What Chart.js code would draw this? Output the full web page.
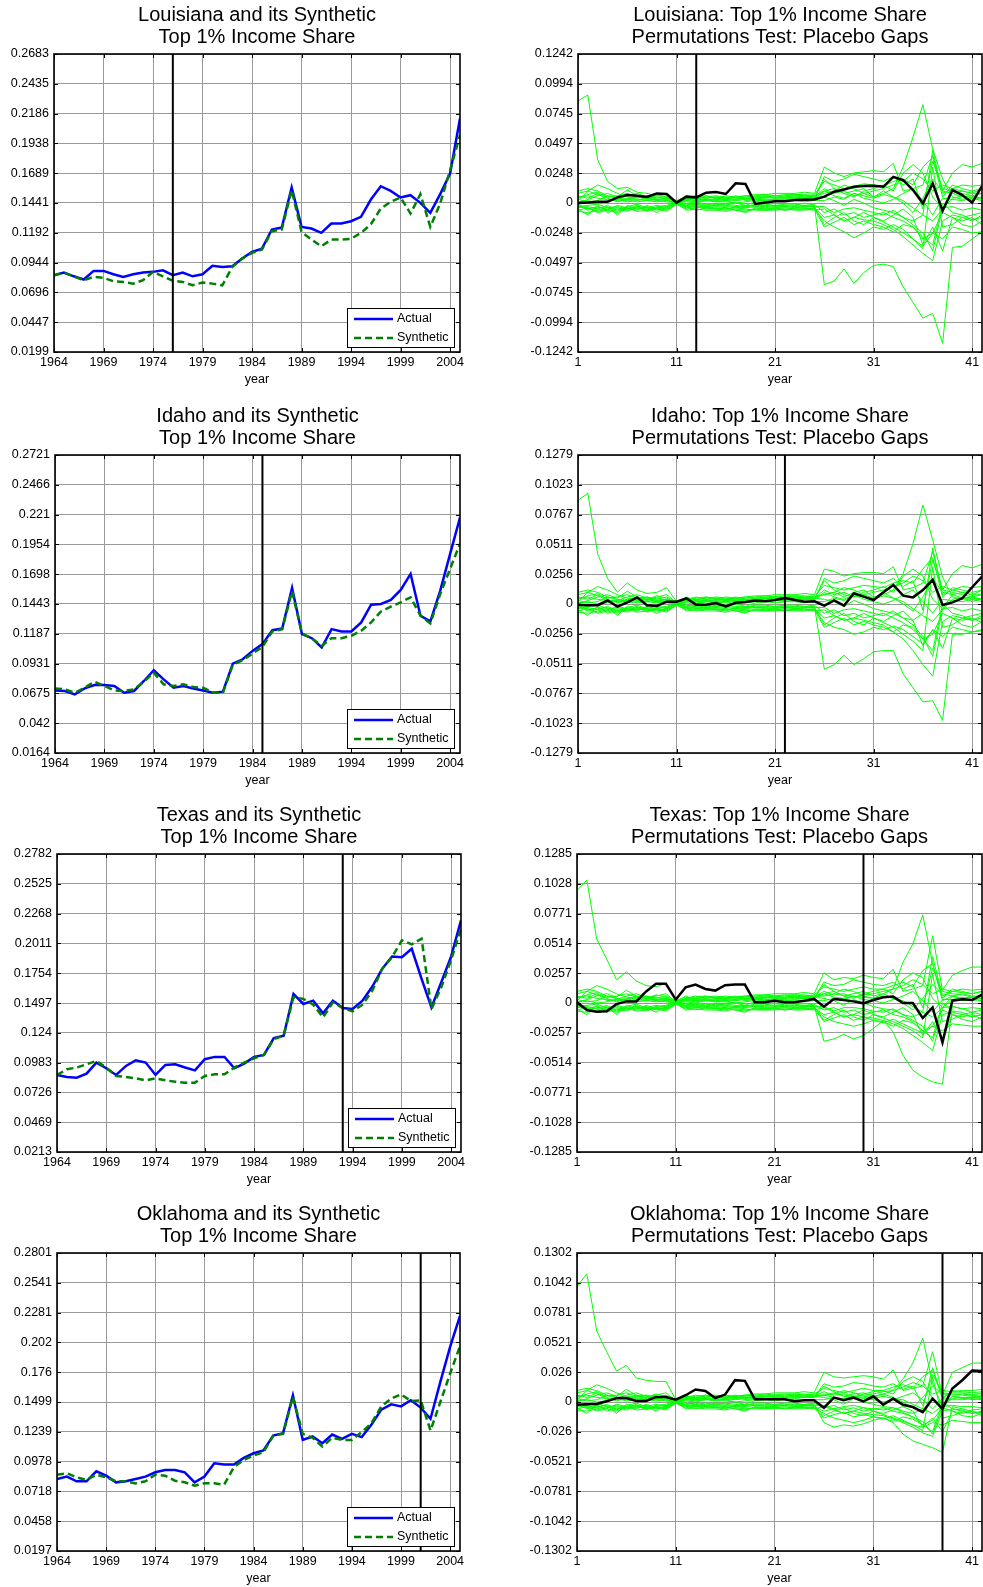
<!DOCTYPE html>
<html>
<head>
<meta charset="utf-8">
<script src="https://cdn.jsdelivr.net/npm/chart.js@4.4.1/dist/chart.umd.min.js"></script>
<style>
html, body { margin: 0; padding: 0; background: #fff; overflow: hidden; width: 983px; height: 1587px; }
canvas { position: absolute; }
</style>
</head>
<body>
<canvas id="laL" width="514" height="390" style="left:0px;top:0px"></canvas>
<canvas id="laR" width="560" height="390" style="left:500px;top:0px"></canvas>
<canvas id="idL" width="515" height="390" style="left:0px;top:401px"></canvas>
<canvas id="idR" width="560" height="390" style="left:500px;top:401px"></canvas>
<canvas id="txL" width="518" height="390" style="left:0px;top:800px"></canvas>
<canvas id="txR" width="559" height="390" style="left:500px;top:800px"></canvas>
<canvas id="okL" width="517" height="390" style="left:0px;top:1199px"></canvas>
<canvas id="okR" width="559" height="390" style="left:500px;top:1199px"></canvas>
<script>
// x values
const years = [1964,1965,1966,1967,1968,1969,1970,1971,1972,1973,1974,1975,1976,1977,1978,1979,1980,1981,1982,1983,1984,1985,1986,1987,1988,1989,1990,1991,1992,1993,1994,1995,1996,1997,1998,1999,2000,2001,2002,2003,2004,2005];
const periods = [1,2,3,4,5,6,7,8,9,10,11,12,13,14,15,16,17,18,19,20,21,22,23,24,25,26,27,28,29,30,31,32,33,34,35,36,37,38,39,40,41,42];
const yearTicks = [1964,1969,1974,1979,1984,1989,1994,1999,2004];
const periodTicks = [1,11,21,31,41];

// left panels: actual vs synthetic
const laActual = [0.0839,0.0861,0.0830,0.0803,0.0875,0.0875,0.0847,0.0825,0.0847,0.0861,0.0867,0.0880,0.0839,0.0861,0.0830,0.0847,0.0917,0.0908,0.0914,0.0978,0.1033,0.1061,0.1220,0.1236,0.1570,0.1242,0.1228,0.1192,0.1270,0.1270,0.1289,0.1326,0.1470,0.1581,0.1542,0.1487,0.1506,0.1442,0.1359,0.1515,0.1687,0.2146];
const laSynthetic = [0.0839,0.0861,0.0830,0.0797,0.0825,0.0817,0.0789,0.0783,0.0769,0.0797,0.0867,0.0830,0.0792,0.0783,0.0755,0.0778,0.0769,0.0755,0.0908,0.0978,0.1025,0.1053,0.1206,0.1220,0.1548,0.1200,0.1136,0.1081,0.1136,0.1136,0.1142,0.1192,0.1264,0.1395,0.1451,0.1487,0.1353,0.1515,0.1242,0.1437,0.1715,0.2007];
const idActual = [0.0701,0.0696,0.0667,0.0718,0.0747,0.0747,0.0739,0.0681,0.0696,0.0782,0.0874,0.0796,0.0724,0.0739,0.0718,0.0701,0.0681,0.0690,0.0931,0.0968,0.1040,0.1098,0.1218,0.1232,0.1580,0.1184,0.1149,0.1069,0.1227,0.1207,0.1207,0.1284,0.1437,0.1443,0.1477,0.1563,0.1701,0.1342,0.1293,0.1557,0.1873,0.2184];
const idSynthetic = [0.0718,0.0710,0.0681,0.0724,0.0776,0.0739,0.0701,0.0696,0.0710,0.0776,0.0854,0.0753,0.0739,0.0753,0.0730,0.0724,0.0681,0.0681,0.0920,0.0960,0.1017,0.1075,0.1207,0.1227,0.1552,0.1190,0.1149,0.1083,0.1149,0.1149,0.1170,0.1213,0.1284,0.1379,0.1420,0.1457,0.1500,0.1342,0.1276,0.1529,0.1744,0.1960];
const txActual = [0.0877,0.0860,0.0854,0.0889,0.0984,0.0935,0.0877,0.0955,0.1004,0.0984,0.0877,0.0964,0.0969,0.0941,0.0917,0.1013,0.1033,0.1033,0.0935,0.0975,0.1033,0.1050,0.1195,0.1215,0.1576,0.1489,0.1518,0.1408,0.1518,0.1454,0.1446,0.1518,0.1639,0.1792,0.1899,0.1893,0.1965,0.1705,0.1460,0.1677,0.1899,0.2211];
const txSynthetic = [0.0877,0.0926,0.0941,0.0969,0.0998,0.0941,0.0868,0.0860,0.0848,0.0831,0.0848,0.0831,0.0819,0.0811,0.0811,0.0868,0.0883,0.0883,0.0941,0.0984,0.1021,0.1050,0.1186,0.1215,0.1547,0.1533,0.1483,0.1374,0.1503,0.1454,0.1425,0.1483,0.1604,0.1792,0.1893,0.2038,0.2003,0.2052,0.1446,0.1633,0.1870,0.2139];
const okActual = [0.0826,0.0847,0.0806,0.0806,0.0893,0.0855,0.0797,0.0806,0.0826,0.0847,0.0885,0.0905,0.0905,0.0885,0.0797,0.0847,0.0964,0.0952,0.0952,0.1010,0.1051,0.1075,0.1206,0.1227,0.1558,0.1168,0.1198,0.1139,0.1215,0.1177,0.1221,0.1192,0.1303,0.1432,0.1479,0.1461,0.1514,0.1450,0.1353,0.1675,0.1982,0.2251];
const okSynthetic = [0.0864,0.0876,0.0841,0.0817,0.0864,0.0841,0.0806,0.0806,0.0788,0.0806,0.0864,0.0855,0.0811,0.0797,0.0768,0.0788,0.0788,0.0776,0.0929,0.0993,0.1031,0.1060,0.1206,0.1221,0.1543,0.1221,0.1186,0.1110,0.1186,0.1168,0.1168,0.1236,0.1315,0.1461,0.1528,0.1566,0.1508,0.1514,0.1250,0.1499,0.1748,0.1988];

const laTicks = [0.0199,0.0447,0.0696,0.0944,0.1192,0.1441,0.1689,0.1938,0.2186,0.2435,0.2683];
const idTicks = [0.0164,0.042,0.0675,0.0931,0.1187,0.1443,0.1698,0.1954,0.221,0.2466,0.2721];
const txTicks = [0.0213,0.0469,0.0726,0.0983,0.124,0.1497,0.1754,0.2011,0.2268,0.2525,0.2782];
const okTicks = [0.0197,0.0458,0.0718,0.0978,0.1239,0.1499,0.176,0.202,0.2281,0.2541,0.2801];

// right panels: treated gap (black)
const laGap = [0.000,0.0005,0.001,0.001,0.0047,0.0067,0.006,0.005,0.008,0.0075,0.0003,0.0053,0.0047,0.0086,0.0092,0.0075,0.0164,0.0158,-0.0008,0.0005,0.0014,0.0014,0.0025,0.0028,0.003,0.0053,0.0094,0.0113,0.0135,0.0141,0.0144,0.0135,0.0218,0.019,0.0108,-0.0003,0.0163,-0.0064,0.0108,0.0066,0.0003,0.0141];
const idGap = [-0.0006,-0.001,-0.001,0.003,-0.0023,0.0014,0.0057,-0.0011,-0.0017,0.002,0.002,0.0049,-0.0006,-0.0006,0.0009,-0.002,0.0011,0.0017,0.0029,0.0023,0.0034,0.0052,0.0034,0.002,0.0023,-0.0014,0.003,-0.0014,0.0092,0.0063,0.0034,0.010,0.0164,0.0072,0.0057,0.012,0.0207,-0.0009,0.0014,0.0049,0.0144,0.0236];
const txGap = [0.0006,-0.006,-0.0075,-0.0072,-0.0009,0.0014,0.0014,0.010,0.0165,0.0165,0.0029,0.0136,0.0159,0.0121,0.0107,0.0153,0.0159,0.0159,0.0006,0.0006,0.002,0.0006,0.0006,0.002,0.0035,-0.0032,0.0035,0.0026,0.0014,-0.0003,0.0026,0.0049,0.0055,0.0,0.0,-0.013,-0.0038,-0.034,0.002,0.0032,0.0026,0.0072];
const okGap = [-0.0024,-0.002,-0.0018,0.0006,0.0035,0.0035,0.0009,0.0009,0.0044,0.0044,0.002,0.0059,0.0109,0.0097,0.0035,0.0065,0.0191,0.0185,0.0024,0.0024,0.0024,0.0024,0.0006,0.0015,0.0015,-0.005,0.0038,0.0015,0.0038,0.0006,0.005,-0.0024,0.003,-0.0024,-0.0044,-0.0088,0.003,-0.0059,0.0118,0.019,0.0274,0.027];

// placebo with the big early gap
const laOutlier = [0.085,0.090,0.036,0.018,0.012,0.013,0.009,0.008,0.006,0.005,0.000,0.003,0.002,0.003,0.001,0.002,0.000,-0.002,0.001,0.002,0.003,0.002,0.003,0.004,0.004,0.010,0.006,0.004,0.008,0.006,0.004,0.007,0.005,0.002,-0.004,-0.010,-0.015,-0.005,0.004,0.006,0.002,0.005];
const idOutlier = [0.089,0.095,0.043,0.022,0.010,0.018,0.012,0.009,0.010,0.014,0.002,0.003,0.002,0.003,0.001,0.002,0.000,-0.002,0.001,0.002,0.003,0.002,0.003,0.004,0.004,0.010,0.006,0.004,0.008,0.006,0.004,0.007,0.005,0.002,-0.004,-0.010,-0.015,-0.005,0.004,0.006,0.002,0.005];
const txOutlier = [0.097,0.106,0.055,0.038,0.020,0.027,0.019,0.015,0.014,0.017,0.002,0.003,0.002,0.003,0.001,0.002,0.000,-0.002,0.001,0.002,0.003,0.002,0.003,0.004,0.004,0.008,0.005,0.004,0.006,0.005,0.004,0.006,0.004,0.002,-0.003,-0.008,-0.012,-0.004,0.003,0.005,0.002,0.004];
const okOutlier = [0.101,0.112,0.062,0.044,0.027,0.032,0.021,0.019,0.018,0.018,0.002,0.003,0.002,0.003,0.001,0.002,0.000,-0.002,0.001,0.002,0.003,0.002,0.003,0.004,0.004,0.006,0.004,0.003,0.005,0.004,0.003,0.005,0.003,0.002,-0.002,-0.006,-0.010,-0.003,0.003,0.004,0.002,0.003];

// other placebo gaps, periods 1-25 (similar in every panel)
const bandPre = [
  [-0.004,-0.003,-0.005,-0.002,-0.006,-0.003,-0.001,-0.004,-0.008,-0.003,0.000,-0.002,-0.001,-0.003,-0.002,-0.003,-0.004,-0.003,-0.002,-0.002,-0.003,-0.003,-0.002,-0.003,-0.002],
  [0.005,0.006,0.004,0.003,0.002,0.004,0.003,0.002,0.003,0.002,0.000,0.002,0.001,0.002,0.003,0.002,0.003,0.004,0.003,0.005,0.004,0.005,0.006,0.005,0.006],
  [0.002,0.010,0.015,0.012,0.008,0.005,0.004,0.006,0.003,0.004,0.001,0.003,0.002,0.004,0.005,0.004,0.005,0.006,0.007,0.007,0.008,0.008,0.008,0.009,0.008],
  [-0.002,-0.006,-0.004,-0.003,-0.010,-0.002,-0.005,-0.003,-0.006,-0.004,0.000,-0.003,-0.002,-0.004,-0.003,-0.004,-0.006,-0.008,-0.004,-0.005,-0.005,-0.004,-0.005,-0.005,-0.004],
  [0.000,0.003,0.006,0.008,0.005,0.011,0.006,0.004,0.007,0.005,0.001,0.004,0.003,0.002,0.004,0.003,0.002,0.003,0.004,0.004,0.005,0.004,0.005,0.004,0.005],
  [-0.006,-0.004,-0.007,-0.005,-0.004,-0.006,-0.004,-0.005,-0.004,-0.006,-0.001,-0.004,-0.003,-0.005,-0.004,-0.005,-0.004,-0.005,-0.006,-0.006,-0.006,-0.005,-0.006,-0.006,-0.005],
  [0.008,0.010,0.007,0.005,0.006,0.008,0.005,0.006,0.004,0.006,0.002,0.005,0.004,0.005,0.006,0.005,0.004,0.005,0.006,0.007,0.006,0.007,0.007,0.006,0.007],
  [-0.003,-0.002,-0.001,-0.004,-0.003,-0.005,-0.002,-0.006,-0.003,-0.002,0.001,-0.001,-0.002,-0.001,-0.002,-0.001,-0.002,-0.003,-0.001,-0.001,-0.002,-0.001,-0.001,-0.002,-0.001],
  [0.003,0.001,0.002,0.006,0.004,0.002,0.005,0.003,0.005,0.003,0.000,0.002,0.004,0.003,0.002,0.003,0.005,0.002,0.003,0.003,0.003,0.003,0.004,0.004,0.004],
  [-0.001,-0.005,-0.003,-0.006,-0.002,-0.004,-0.006,-0.002,-0.005,-0.007,-0.001,-0.005,-0.004,-0.002,-0.005,-0.006,-0.003,-0.004,-0.003,-0.004,-0.004,-0.003,-0.004,-0.003,-0.003],
  [0.001,0.002,0.000,0.001,0.003,0.001,0.002,0.004,0.002,0.001,0.000,0.001,0.000,0.002,0.001,0.001,0.000,0.001,0.002,0.002,0.001,0.002,0.002,0.001,0.002],
  [0.004,0.007,0.009,0.004,0.001,0.003,0.001,0.002,0.001,0.002,0.000,0.003,0.005,0.006,0.004,0.006,0.005,0.006,0.005,0.006,0.006,0.006,0.007,0.007,0.006],
  [-0.005,-0.010,-0.002,-0.008,-0.005,-0.007,-0.003,-0.004,-0.002,-0.004,0.000,-0.006,-0.005,-0.006,-0.006,-0.007,-0.005,-0.006,-0.005,-0.006,-0.005,-0.006,-0.005,-0.005,-0.006],
  [0.006,0.004,0.008,0.002,0.003,0.006,0.008,0.005,0.002,0.004,0.001,0.004,0.006,0.004,0.005,0.004,0.006,0.004,0.005,0.005,0.006,0.005,0.006,0.006,0.005],
  [-0.007,-0.008,-0.006,-0.004,-0.007,-0.004,-0.007,-0.006,-0.005,-0.005,-0.001,-0.003,-0.006,-0.004,-0.005,-0.004,-0.006,-0.007,-0.005,-0.005,-0.004,-0.006,-0.004,-0.004,-0.005],
  [0.010,0.012,0.010,0.006,0.004,0.003,0.006,0.004,0.006,0.008,0.001,0.006,0.003,0.006,0.004,0.004,0.003,0.004,0.004,0.005,0.004,0.004,0.005,0.005,0.004],
  [-0.002,-0.004,-0.008,-0.006,-0.008,-0.005,-0.003,-0.007,-0.004,-0.003,0.000,-0.002,-0.004,-0.003,-0.001,-0.002,-0.003,-0.002,-0.003,-0.003,-0.002,-0.002,-0.003,-0.002,-0.003]
];

// same placebos, periods 26-42, per panel
const laPost = [
  [-0.068,-0.065,-0.055,-0.067,-0.058,-0.052,-0.051,-0.053,-0.070,-0.083,-0.096,-0.092,-0.117,-0.037,-0.036,-0.030,-0.024],
  [0.010,0.012,0.008,0.010,0.012,0.005,0.008,0.012,0.030,0.055,0.082,0.045,0.020,0.005,0.003,0.005,0.004],
  [0.030,0.025,0.022,0.025,0.026,0.027,0.026,0.033,0.010,0.012,0.015,0.040,0.010,0.025,0.032,0.030,0.033],
  [-0.012,-0.010,-0.015,-0.012,-0.014,-0.015,-0.018,-0.022,-0.028,-0.035,-0.042,-0.048,-0.015,-0.010,-0.012,-0.015,-0.010],
  [0.005,0.002,-0.002,0.003,0.000,-0.004,-0.006,-0.008,-0.012,-0.015,-0.010,0.044,0.008,0.012,0.010,0.008,0.012],
  [-0.015,-0.020,-0.024,-0.029,-0.025,-0.020,-0.022,-0.018,-0.022,-0.030,-0.036,-0.025,-0.030,-0.020,-0.022,-0.025,-0.024],
  [0.018,0.015,0.012,0.014,0.016,0.015,0.014,0.018,0.020,0.015,0.030,0.038,0.005,0.015,0.012,0.010,0.012],
  [-0.008,-0.005,-0.010,-0.008,-0.012,-0.010,-0.008,-0.012,-0.015,-0.020,-0.030,-0.025,-0.008,-0.012,-0.015,-0.012,-0.018],
  [0.020,0.012,0.008,0.005,0.010,0.012,0.015,0.010,0.025,0.032,0.025,0.005,-0.005,0.008,0.005,0.006,0.008],
  [-0.018,-0.012,-0.008,-0.015,-0.018,-0.012,-0.015,-0.010,-0.005,-0.012,-0.035,-0.020,-0.040,-0.012,-0.018,-0.020,-0.015],
  [0.002,0.005,0.003,0.008,0.004,0.002,0.000,0.003,0.008,0.012,0.002,-0.010,0.004,0.003,0.002,0.004,0.002],
  [0.008,0.010,0.015,0.012,0.008,0.005,0.010,0.005,0.000,-0.008,0.004,0.020,0.010,0.008,0.010,0.008,0.008],
  [-0.005,-0.010,-0.015,-0.012,-0.008,-0.012,-0.016,-0.020,-0.025,-0.030,-0.038,0.030,-0.020,-0.018,-0.012,-0.010,-0.008],
  [0.012,0.008,0.010,0.006,0.008,0.010,0.012,0.015,0.018,0.025,0.020,0.010,0.015,0.012,0.015,0.014,0.015],
  [-0.020,-0.016,-0.012,-0.018,-0.015,-0.018,-0.020,-0.024,-0.018,-0.020,-0.028,-0.035,0.000,-0.008,-0.010,-0.014,-0.012],
  [0.022,0.018,0.020,0.024,0.022,0.020,0.018,0.022,0.015,0.020,-0.005,0.035,0.012,0.010,0.008,0.006,0.004],
  [-0.003,-0.008,-0.005,-0.004,-0.006,-0.008,-0.010,-0.006,-0.012,-0.018,-0.025,-0.040,-0.004,-0.003,-0.006,-0.004,-0.006]
];
const idPost = [
  [-0.056,-0.052,-0.044,-0.052,-0.047,-0.041,-0.040,-0.040,-0.060,-0.072,-0.084,-0.083,-0.100,-0.026,-0.026,-0.024,-0.023],
  [0.008,0.010,0.006,0.010,0.012,0.006,0.008,0.012,0.026,0.052,0.085,0.055,0.023,0.006,0.004,0.005,0.004],
  [0.030,0.028,0.024,0.026,0.027,0.027,0.026,0.032,0.012,0.014,0.018,0.045,0.012,0.026,0.033,0.031,0.034],
  [-0.012,-0.010,-0.014,-0.012,-0.014,-0.016,-0.018,-0.024,-0.030,-0.040,-0.052,-0.062,-0.015,-0.010,-0.012,-0.014,-0.010],
  [0.004,0.002,-0.002,0.003,0.000,-0.004,-0.006,-0.008,-0.012,-0.014,-0.008,0.048,0.008,0.012,0.010,0.008,0.012],
  [-0.016,-0.020,-0.022,-0.026,-0.024,-0.020,-0.022,-0.019,-0.022,-0.028,-0.034,-0.022,-0.028,-0.020,-0.022,-0.024,-0.022],
  [0.016,0.014,0.012,0.014,0.016,0.015,0.014,0.018,0.020,0.018,0.030,0.040,0.006,0.014,0.012,0.010,0.012],
  [-0.008,-0.005,-0.010,-0.008,-0.012,-0.010,-0.008,-0.012,-0.016,-0.022,-0.030,-0.026,-0.008,-0.012,-0.014,-0.012,-0.016],
  [0.020,0.012,0.008,0.006,0.010,0.012,0.015,0.010,0.024,0.030,0.024,0.004,-0.004,0.008,0.005,0.006,0.008],
  [-0.018,-0.012,-0.008,-0.015,-0.018,-0.012,-0.015,-0.010,-0.006,-0.014,-0.036,-0.022,-0.038,-0.012,-0.018,-0.020,-0.015],
  [0.002,0.005,0.003,0.008,0.004,0.002,0.000,0.003,0.008,0.012,0.002,-0.008,0.004,0.003,0.002,0.004,0.002],
  [0.008,0.010,0.014,0.012,0.008,0.005,0.010,0.005,0.000,-0.006,0.006,0.022,0.010,0.008,0.010,0.008,0.008],
  [-0.005,-0.010,-0.014,-0.012,-0.008,-0.012,-0.016,-0.020,-0.026,-0.032,-0.040,0.032,-0.020,-0.018,-0.012,-0.010,-0.008],
  [0.012,0.008,0.010,0.006,0.008,0.010,0.012,0.015,0.018,0.024,0.020,0.010,0.015,0.012,0.015,0.014,0.015],
  [-0.020,-0.016,-0.012,-0.018,-0.015,-0.018,-0.020,-0.024,-0.018,-0.020,-0.030,-0.040,0.000,-0.008,-0.010,-0.014,-0.012],
  [0.022,0.018,0.020,0.024,0.022,0.020,0.018,0.022,0.015,0.020,-0.005,0.038,0.012,0.010,0.008,0.006,0.004],
  [-0.003,-0.008,-0.005,-0.004,-0.006,-0.008,-0.010,-0.006,-0.012,-0.018,-0.028,-0.045,-0.004,-0.003,-0.006,-0.004,-0.006]
];
const txPost = [
  [-0.033,-0.031,-0.027,-0.031,-0.028,-0.022,-0.015,-0.025,-0.045,-0.058,-0.064,-0.068,-0.070,-0.003,-0.005,-0.008,-0.010],
  [0.008,0.010,0.006,0.008,0.010,0.006,0.008,0.012,0.035,0.051,0.076,0.034,0.002,0.006,0.004,0.005,0.004],
  [0.026,0.020,0.022,0.021,0.024,0.022,0.021,0.029,0.010,0.012,0.015,0.058,0.011,0.024,0.028,0.031,0.031],
  [-0.010,-0.008,-0.012,-0.010,-0.012,-0.013,-0.015,-0.018,-0.022,-0.028,-0.034,-0.041,-0.010,-0.008,-0.010,-0.012,-0.010],
  [0.004,0.002,-0.002,0.003,0.000,-0.003,-0.005,-0.006,-0.010,-0.012,-0.008,0.040,0.006,0.010,0.009,0.008,0.010],
  [-0.012,-0.016,-0.018,-0.020,-0.018,-0.015,-0.017,-0.014,-0.018,-0.022,-0.026,-0.020,-0.024,-0.018,-0.019,-0.020,-0.020],
  [0.014,0.012,0.010,0.012,0.014,0.012,0.012,0.015,0.018,0.014,0.028,0.034,0.004,0.012,0.010,0.008,0.010],
  [-0.006,-0.004,-0.008,-0.006,-0.010,-0.008,-0.006,-0.010,-0.012,-0.016,-0.024,-0.020,-0.006,-0.010,-0.012,-0.010,-0.014],
  [0.016,0.010,0.006,0.004,0.008,0.010,0.012,0.008,0.020,0.026,0.022,0.004,-0.004,0.006,0.004,0.005,0.006],
  [-0.015,-0.010,-0.006,-0.012,-0.015,-0.010,-0.012,-0.008,-0.004,-0.010,-0.028,-0.016,-0.032,-0.010,-0.014,-0.016,-0.012],
  [0.002,0.004,0.003,0.006,0.003,0.002,0.000,0.003,0.006,0.010,0.002,-0.008,0.003,0.003,0.002,0.003,0.002],
  [0.006,0.008,0.012,0.010,0.006,0.004,0.008,0.004,0.000,-0.006,0.004,0.016,0.008,0.006,0.008,0.006,0.006],
  [-0.004,-0.008,-0.012,-0.010,-0.006,-0.010,-0.013,-0.016,-0.020,-0.024,-0.030,0.025,-0.016,-0.014,-0.010,-0.008,-0.006],
  [0.010,0.007,0.008,0.005,0.007,0.008,0.010,0.012,0.015,0.020,0.016,0.008,0.012,0.010,0.012,0.011,0.012],
  [-0.016,-0.013,-0.010,-0.015,-0.012,-0.015,-0.016,-0.020,-0.015,-0.017,-0.024,-0.030,0.000,-0.007,-0.008,-0.012,-0.010],
  [0.018,0.015,0.016,0.020,0.018,0.016,0.015,0.018,0.012,0.016,-0.004,0.030,0.010,0.008,0.007,0.005,0.004],
  [-0.003,-0.007,-0.004,-0.004,-0.005,-0.007,-0.008,-0.005,-0.010,-0.015,-0.020,-0.033,-0.004,-0.003,-0.005,-0.004,-0.005]
];
const okPost = [
  [-0.018,-0.022,-0.020,-0.021,-0.019,-0.016,-0.014,-0.018,-0.028,-0.034,-0.037,-0.040,-0.044,-0.004,-0.006,-0.008,-0.010],
  [0.006,0.008,0.005,0.007,0.008,0.005,0.007,0.010,0.020,0.034,0.056,0.016,-0.004,0.005,0.003,0.004,0.003],
  [0.026,0.022,0.021,0.022,0.023,0.022,0.020,0.028,0.010,0.012,0.014,0.044,0.006,0.026,0.030,0.034,0.034],
  [-0.008,-0.006,-0.010,-0.008,-0.010,-0.011,-0.012,-0.015,-0.018,-0.022,-0.027,-0.030,-0.008,-0.006,-0.008,-0.010,-0.008],
  [0.004,0.002,-0.002,0.003,0.000,-0.002,-0.004,-0.005,-0.008,-0.010,-0.006,0.030,0.004,0.008,0.008,0.006,0.008],
  [-0.010,-0.014,-0.016,-0.018,-0.016,-0.013,-0.015,-0.012,-0.016,-0.020,-0.022,-0.018,-0.020,-0.016,-0.017,-0.018,-0.018],
  [0.012,0.010,0.008,0.010,0.012,0.010,0.010,0.013,0.015,0.012,0.022,0.028,0.003,0.010,0.009,0.008,0.009],
  [-0.005,-0.003,-0.007,-0.005,-0.008,-0.006,-0.005,-0.008,-0.010,-0.013,-0.020,-0.016,-0.005,-0.008,-0.010,-0.008,-0.012],
  [0.014,0.009,0.005,0.004,0.007,0.009,0.010,0.007,0.018,0.022,0.018,0.003,-0.003,0.005,0.004,0.004,0.005],
  [-0.012,-0.008,-0.005,-0.010,-0.012,-0.008,-0.010,-0.007,-0.004,-0.008,-0.022,-0.014,-0.026,-0.008,-0.012,-0.013,-0.010],
  [0.002,0.004,0.002,0.005,0.003,0.002,0.000,0.002,0.005,0.008,0.002,-0.006,0.003,0.002,0.002,0.003,0.002],
  [0.006,0.007,0.010,0.008,0.005,0.004,0.007,0.004,0.000,-0.005,0.004,0.014,0.007,0.006,0.007,0.006,0.006],
  [-0.004,-0.007,-0.010,-0.008,-0.005,-0.008,-0.011,-0.014,-0.017,-0.020,-0.025,0.022,-0.014,-0.012,-0.009,-0.007,-0.006],
  [0.009,0.006,0.007,0.005,0.006,0.007,0.009,0.010,0.013,0.017,0.014,0.007,0.010,0.009,0.010,0.010,0.011],
  [-0.014,-0.011,-0.009,-0.013,-0.011,-0.013,-0.014,-0.017,-0.013,-0.015,-0.020,-0.026,0.000,-0.006,-0.007,-0.010,-0.009],
  [0.016,0.013,0.014,0.017,0.016,0.014,0.013,0.016,0.011,0.014,-0.003,0.024,0.008,0.007,0.006,0.005,0.004],
  [-0.003,-0.006,-0.004,-0.003,-0.005,-0.006,-0.007,-0.005,-0.009,-0.013,-0.017,-0.028,-0.004,-0.003,-0.004,-0.004,-0.005]
];

const laGapTicks = [-0.1242,-0.0994,-0.0745,-0.0497,-0.0248,0,0.0248,0.0497,0.0745,0.0994,0.1242];
const idGapTicks = [-0.1279,-0.1023,-0.0767,-0.0511,-0.0256,0,0.0256,0.0511,0.0767,0.1023,0.1279];
const txGapTicks = [-0.1285,-0.1028,-0.0771,-0.0514,-0.0257,0,0.0257,0.0514,0.0771,0.1028,0.1285];
const okGapTicks = [-0.1302,-0.1042,-0.0781,-0.0521,-0.026,0,0.026,0.0521,0.0781,0.1042,0.1302];

Chart.defaults.font.family = '"Liberation Sans", Arial, Helvetica, sans-serif';
Chart.defaults.color = '#000';

const fontSize = 12.5;
const gridColor = '#9a9a9a';

// black box round the plot plus small inward ticks
const frameBox = {
    id: 'frameBox',
    afterDraw(chart) {
        const a = chart.chartArea;
        const ctx = chart.ctx;
        ctx.save();
        ctx.strokeStyle = '#000';
        ctx.lineWidth = 1;
        ctx.beginPath();
        chart.scales.x.ticks.forEach(function (t) {
            const px = Math.round(chart.scales.x.getPixelForValue(t.value)) + 0.5;
            ctx.moveTo(px, a.top); ctx.lineTo(px, a.top + 4);
            ctx.moveTo(px, a.bottom); ctx.lineTo(px, a.bottom - 4);
        });
        chart.scales.y.ticks.forEach(function (t) {
            const py = Math.round(chart.scales.y.getPixelForValue(t.value)) + 0.5;
            ctx.moveTo(a.left, py); ctx.lineTo(a.left + 4, py);
            ctx.moveTo(a.right, py); ctx.lineTo(a.right - 4, py);
        });
        ctx.stroke();
        ctx.lineWidth = 1.6;
        ctx.strokeRect(a.left, a.top, a.right - a.left, a.bottom - a.top);
        ctx.restore();
    }
};

// MATLAB style legend inside the lower right corner
const boxLegend = {
    id: 'boxLegend',
    afterDraw(chart) {
        const items = chart.data.datasets.filter(function (d) { return d.inLegend; });
        if (!items.length) return;
        const a = chart.chartArea;
        const ctx = chart.ctx;
        const w = 107, h = 39;
        const x = Math.round(a.right - 6 - w), y = Math.round(a.bottom - 5 - h);
        ctx.save();
        ctx.fillStyle = '#fff';
        ctx.fillRect(x, y, w, h);
        ctx.strokeStyle = '#000';
        ctx.lineWidth = 1;
        ctx.strokeRect(x + 0.5, y + 0.5, w, h);
        items.forEach(function (d, i) {
            const ly = y + 11 + i * 19;
            ctx.beginPath();
            ctx.setLineDash(d.borderDash || []);
            ctx.strokeStyle = d.borderColor;
            ctx.lineWidth = d.borderWidth;
            ctx.moveTo(x + 7, ly);
            ctx.lineTo(x + 46, ly);
            ctx.stroke();
            ctx.setLineDash([]);
            ctx.fillStyle = '#000';
            ctx.font = fontSize + 'px "Liberation Sans", Arial, sans-serif';
            ctx.textBaseline = 'middle';
            ctx.fillText(d.label, x + 50, ly);
        });
        ctx.restore();
    }
};

function points(xs, ys) {
    return ys.map(function (v, i) { return { x: xs[i], y: v }; });
}

function makeChart(id, axisW, titleText, xs, xTicks, yTicks, datasets) {
    const canvas = document.getElementById(id);
    return new Chart(canvas, {
        type: 'line',
        data: { datasets: datasets },
        options: {
            responsive: false,
            animation: false,
            events: [],
            layout: { padding: { left: 0, right: 0, top: 0, bottom: 1 } },
            elements: { point: { radius: 0 }, line: { tension: 0 } },
            plugins: {
                legend: { display: false },
                tooltip: { enabled: false },
                title: {
                    display: true,
                    text: titleText,
                    color: '#000',
                    font: { size: 20, weight: 'normal', lineHeight: 1.1 },
                    padding: { top: 4, bottom: 6 }
                }
            },
            scales: {
                x: {
                    type: 'linear',
                    min: xs[0],
                    max: xs[xs.length - 1],
                    afterBuildTicks: function (ax) { ax.ticks = xTicks.map(function (v) { return { value: v }; }); },
                    afterFit: function (ax) { ax.height = 37; },
                    ticks: { callback: function (v) { return String(v); }, autoSkip: false, maxRotation: 0, padding: 3, font: { size: fontSize } },
                    grid: { color: gridColor, drawTicks: false },
                    border: { display: false },
                    title: { display: true, text: 'year', font: { size: fontSize }, padding: { top: 0, bottom: 1.5 } }
                },
                y: {
                    type: 'linear',
                    min: yTicks[0],
                    max: yTicks[yTicks.length - 1],
                    afterBuildTicks: function (ax) { ax.ticks = yTicks.map(function (v) { return { value: v }; }); },
                    afterFit: function (ax) { ax.width = axisW; },
                    ticks: { callback: function (v) { return String(v); }, autoSkip: false, padding: 5, font: { size: fontSize } },
                    grid: { color: gridColor, drawTicks: false },
                    border: { display: false }
                },
                // empty right axis, same width as the left one, so the title sits over the plot
                spacer: {
                    type: 'linear',
                    position: 'right',
                    afterFit: function (ax) { ax.width = axisW; },
                    ticks: { display: false },
                    grid: { display: false },
                    border: { display: false }
                }
            }
        },
        plugins: [frameBox, boxLegend]
    });
}

function leftPanel(id, axisW, state, actual, synthetic, yTicks, treatYear) {
    makeChart(id, axisW, [state + ' and its Synthetic', 'Top 1% Income Share'], years, yearTicks, yTicks, [
        { label: 'Actual', inLegend: true, data: points(years, actual), borderColor: '#0000ff', borderWidth: 2.5, order: 2 },
        { label: 'Synthetic', inLegend: true, data: points(years, synthetic), borderColor: '#008000', borderWidth: 2.5, borderDash: [7, 4], order: 1 },
        { label: 'treat', data: [{ x: treatYear, y: yTicks[0] }, { x: treatYear, y: yTicks[yTicks.length - 1] }], borderColor: '#000', borderWidth: 2, order: 0 }
    ]);
}

function rightPanel(id, axisW, state, gap, outlier, post, yTicks, treatPeriod) {
    const sets = [
        { label: 'treat', data: [{ x: treatPeriod, y: yTicks[0] }, { x: treatPeriod, y: yTicks[yTicks.length - 1] }], borderColor: '#000', borderWidth: 2, order: 0 },
        { label: state, data: points(periods, gap), borderColor: '#000', borderWidth: 2.5, order: 1 },
        { label: 'placebo', data: points(periods, outlier), borderColor: '#00ff00', borderWidth: 1, order: 2 }
    ];
    for (let i = 0; i < bandPre.length; i++) {
        sets.push({ label: 'placebo', data: points(periods, bandPre[i].concat(post[i])), borderColor: '#00ff00', borderWidth: 1, order: 2 });
    }
    makeChart(id, axisW, [state + ': Top 1% Income Share', 'Permutations Test: Placebo Gaps'], periods, periodTicks, yTicks, sets);
}

leftPanel('laL', 54, 'Louisiana', laActual, laSynthetic, laTicks, 1976);
rightPanel('laR', 78, 'Louisiana', laGap, laOutlier, laPost, laGapTicks, 13);
leftPanel('idL', 55, 'Idaho', idActual, idSynthetic, idTicks, 1985);
rightPanel('idR', 78, 'Idaho', idGap, idOutlier, idPost, idGapTicks, 22);
leftPanel('txL', 57, 'Texas', txActual, txSynthetic, txTicks, 1993);
rightPanel('txR', 77, 'Texas', txGap, txOutlier, txPost, txGapTicks, 30);
leftPanel('okL', 57, 'Oklahoma', okActual, okSynthetic, okTicks, 2001);
rightPanel('okR', 77, 'Oklahoma', okGap, okOutlier, okPost, okGapTicks, 38);
</script>
</body>
</html>
